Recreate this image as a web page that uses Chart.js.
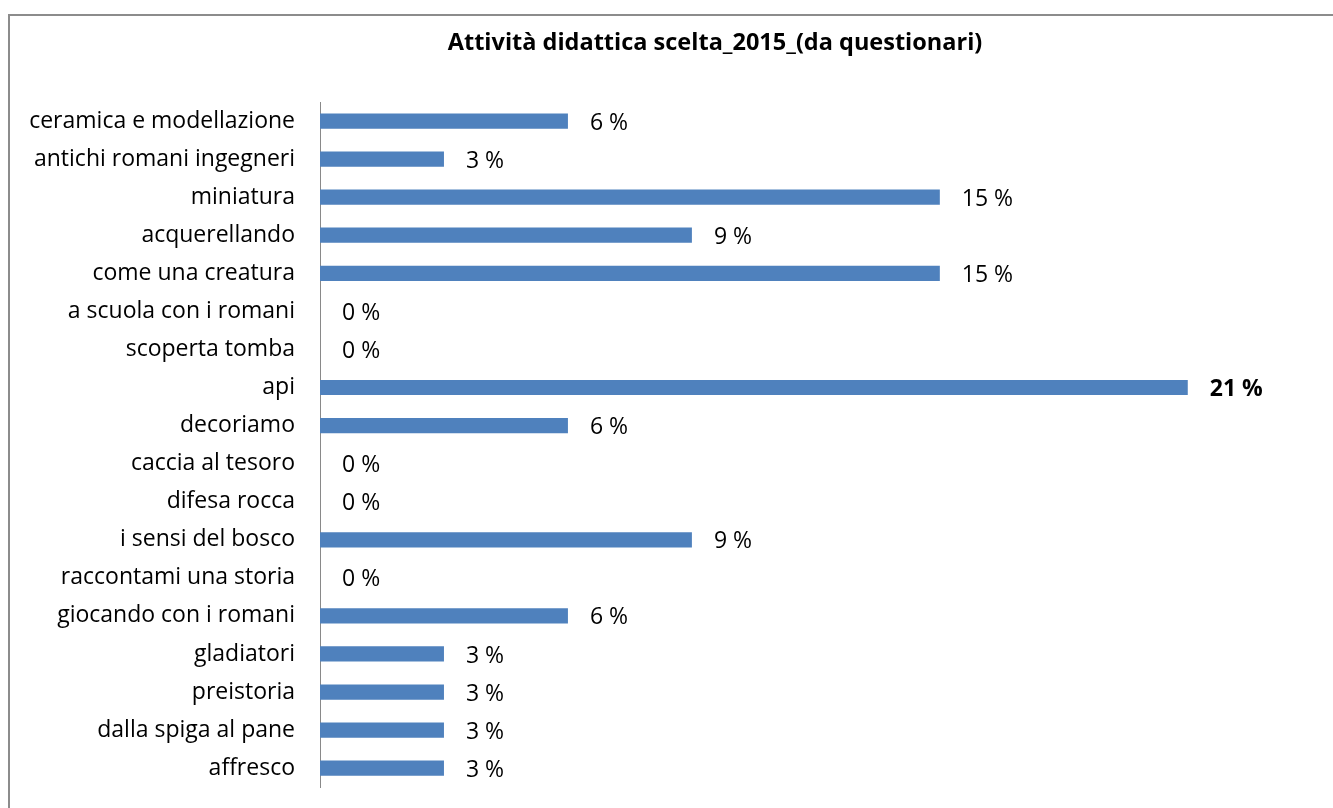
<!DOCTYPE html>
<html>
<head>
<meta charset="utf-8">
<script src="https://cdn.jsdelivr.net/npm/chart.js@4.4.0/dist/chart.umd.min.js"></script>
<style>
  html, body { margin: 0; padding: 0; background: #fff; overflow: hidden; }
  #frame { position: absolute; left: 8px; top: 14px; width: 1400px; height: 900px; border: 2px solid #8c8c8c; box-sizing: border-box; }
  #wrap { position: absolute; left: 0; top: 0; width: 1333px; height: 808px; overflow: hidden; }
</style>
</head>
<body>
<div id="frame"></div>
<div id="wrap"><canvas id="myBarChart" width="1333" height="818"></canvas></div>
<script>
// Chart data
var chartTitle = "Attività didattica scelta_2015_(da questionari)";
var activities = [
  "ceramica e modellazione", "antichi romani ingegneri", "miniatura", "acquerellando",
  "come una creatura", "a scuola con i romani", "scoperta tomba", "api", "decoriamo",
  "caccia al tesoro", "difesa rocca", "i sensi del bosco", "raccontami una storia",
  "giocando con i romani", "gladiatori", "preistoria", "dalla spiga al pane", "affresco"
];
var percentValues = [6, 3, 15, 9, 15, 0, 0, 21, 6, 0, 0, 9, 0, 6, 3, 3, 3, 3];

var fontFamily = "'Open Sans', Lato, sans-serif";
var maxValue = Math.max.apply(null, percentValues);

// title is drawn by hand so it can sit off-centre like the original
var titleDraw = {
  id: "titleDraw",
  afterDraw: function (chart) {
    var ctx = chart.ctx;
    ctx.save();
    ctx.fillStyle = "#000";
    ctx.font = "bold 23.5px " + fontFamily;
    ctx.textAlign = "center";
    ctx.textBaseline = "middle";
    ctx.fillText(chartTitle, 715, 43);
    ctx.restore();
  }
};

// draws the "n %" label after each bar, bold for the biggest one
var valueLabels = {
  id: "valueLabels",
  afterDatasetsDraw: function (chart) {
    var ctx = chart.ctx;
    var meta = chart.getDatasetMeta(0);
    ctx.save();
    ctx.fillStyle = "#000";
    ctx.textAlign = "left";
    ctx.textBaseline = "middle";
    meta.data.forEach(function (bar, i) {
      var v = percentValues[i];
      ctx.font = (v === maxValue ? "bold " : "") + "23px " + fontFamily;
      ctx.fillText(v + " %", bar.x + 22, bar.y + 2);
    });
    ctx.restore();
  }
};

var ctx = document.getElementById("myBarChart").getContext("2d");
var myBarChart = new Chart(ctx, {
  type: "bar",
  data: {
    labels: activities,
    datasets: [
      {
        data: percentValues,
        backgroundColor: "#4f81bd",
        barPercentage: 0.8,
        categoryPercentage: 0.5
      }
    ]
  },
  options: {
    indexAxis: "y",
    responsive: false,
    animation: false,
    layout: { padding: { top: 102, left: 0, right: 13, bottom: 0 } },
    plugins: {
      legend: { display: false },
      tooltip: { enabled: false },
      title: { display: false }
    },
    scales: {
      x: {
        display: false,
        min: 0,
        max: 24.2
      },
      y: {
        grid: { display: false },
        border: { display: true, color: "#898989", width: 1 },
        ticks: {
          color: "#000",
          padding: 17,
          font: { family: fontFamily, size: 23 }
        },
        afterFit: function (scale) {
          scale.width = 320;
        }
      }
    }
  },
  plugins: [valueLabels, titleDraw]
});
</script>
</body>
</html>
